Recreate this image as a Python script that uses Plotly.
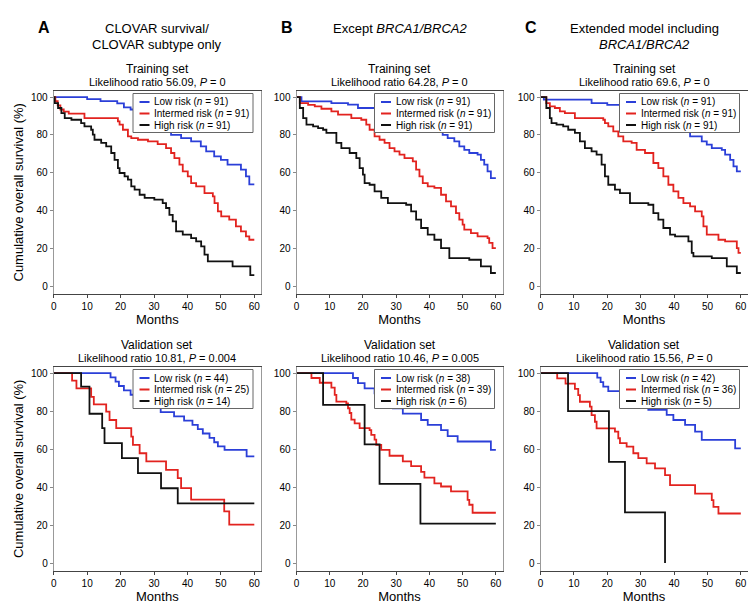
import plotly.graph_objects as go

W, H = 756, 608
FONT = "Liberation Sans, Arial, Helvetica, sans-serif"

# ---------------- data ----------------
month_ticks = [0, 10, 20, 30, 40, 50, 60]
survival_ticks = [0, 20, 40, 60, 80, 100]
risk_groups = ["Low risk", "Intermed risk", "High risk"]
risk_colors = ["#2b3fd8", "#e2231f", "#111111"]

panel_letters = ["A", "B", "C"]
panel_headings = [
    ["CLOVAR survival/", "CLOVAR subtype only"],
    ["Except <i>BRCA1/BRCA2</i>"],
    ["Extended model including", "<i>BRCA1/BRCA2</i>"],
]
set_names = ["Training set", "Validation set"]
lr_values = [["56.09", "64.28", "69.6"], ["10.81", "10.46", "15.56"]]
p_values = [["0", "0", "0"], ["0.004", "0.005", "0"]]
group_n = [[[91, 91, 91], [91, 91, 91], [91, 91, 91]],
           [[44, 25, 14], [38, 39, 6], [42, 36, 5]]]

# Training set, model A
a_train_low_t = [0, 10, 14, 19, 21, 23, 26, 29, 32, 35.1, 38.1, 41.1, 44, 45.6, 48, 50, 52, 56, 57.5, 58.5, 60]
a_train_low_s = [100, 98.9, 97.8, 96.7, 94.5, 93.4, 91.2, 87.9, 84.6, 80, 78.3, 76.5, 73.9, 71.3, 68.6, 66.8, 64.2, 61.6, 58, 53.8, 53.8]
a_train_mid_t = [0, 0.5, 1.2, 2.0, 3.0, 4.5, 9.2, 19.2, 19.7, 20.7, 22.2, 23.2, 25.2, 28.2, 31.1, 33.6, 35.1, 36.1, 37.6, 38.6, 40.1, 41.1, 42.6, 45.1, 47.6, 48.1, 49.1, 50.1, 52.5, 54.5, 56, 57.5, 58.5, 60]
a_train_mid_s = [100, 97.8, 95.6, 93.4, 92.3, 91.2, 88.9, 87.1, 85.4, 82.7, 79.2, 78.3, 77.4, 76.5, 75.1, 73.0, 70.4, 67.7, 64.2, 60.7, 58.0, 54.5, 52.7, 49.2, 47.4, 43.9, 39.5, 36.9, 35.1, 31.6, 28.9, 26.3, 24.5, 24.5]
a_train_high_t = [0, 0.3, 1.3, 2.3, 3.3, 5.3, 8.2, 9.2, 11.2, 11.7, 12.2, 14.2, 15.7, 17.2, 18.2, 19.2, 19.7, 21.2, 22.2, 23.2, 24.2, 25.7, 27.2, 30.1, 32.6, 33.6, 34.6, 35.6, 36.6, 38.6, 41.1, 42.6, 44.1, 45.1, 46.1, 53.5, 58.8, 60]
a_train_high_s = [100, 96.8, 94.2, 91.5, 88.9, 88.0, 86.2, 84.5, 82.7, 80.1, 77.4, 75.7, 73.9, 70.4, 66.8, 62.4, 59.8, 58.0, 56.3, 52.7, 51.0, 48.3, 46.6, 45.7, 43.9, 41.3, 37.7, 34.2, 28.9, 27.2, 25.4, 23.6, 21.0, 16.6, 13.1, 10.4, 5.8, 5.8]

# Training set, model B
b_train_low_t = [0, 1.5, 10.5, 15.5, 18.5, 26, 30, 34, 38, 41, 44, 45.5, 47.5, 49, 50.5, 52, 54.5, 55.5, 56.5, 57.5, 58.5, 60]
b_train_low_s = [100, 97.7, 96.8, 96.0, 94.2, 92.5, 90.5, 88.5, 86.0, 83.5, 80.0, 78.3, 76.5, 73.9, 72.1, 70.4, 69.5, 66.8, 64.2, 60.7, 57.1, 57.1]
b_train_mid_t = [0, 1, 3.5, 5.5, 7.5, 10.5, 12.5, 16.5, 19.5, 21, 22, 23.5, 25, 26.5, 28, 29.5, 31, 32.5, 35, 36, 37, 38, 39.5, 41.5, 43.5, 45, 46.5, 48, 49, 50, 50.5, 52.5, 54.5, 57.5, 58, 59, 60]
b_train_mid_s = [100, 96.8, 95.9, 95.1, 93.8, 92.4, 90.7, 88.9, 88.0, 85.4, 82.7, 79.2, 77.4, 75.7, 73.0, 71.3, 69.5, 67.7, 66.0, 61.6, 58.0, 54.5, 52.7, 51.9, 48.3, 44.8, 42.2, 38.6, 35.1, 32.5, 29.8, 28.0, 26.3, 25.4, 22.8, 20.1, 20.1]
b_train_high_t = [0, 1, 2, 3, 5, 6.5, 8, 9, 12, 13.5, 16, 18, 19, 20, 20.5, 22, 23.5, 25.5, 27.5, 33, 34.5, 36, 37.5, 39.5, 41.5, 43.5, 46, 52, 55.5, 58.5, 60]
b_train_high_s = [100, 94.2, 88.9, 85.4, 84.5, 83.6, 82.7, 81.0, 75.7, 73.0, 70.4, 67.7, 62.4, 58.9, 54.5, 53.6, 50.1, 46.6, 43.9, 43.0, 39.5, 35.1, 30.7, 27.2, 24.5, 20.1, 14.8, 13.9, 10.4, 6.9, 6.9]

# Training set, model C
c_train_low_t = [0, 1, 15.3, 20, 25, 30, 35, 40, 43, 44.8, 48.3, 49.8, 51.3, 54.3, 55.3, 56.8, 57.8, 58.8, 60]
c_train_low_s = [100, 98.6, 96.8, 95.9, 94.5, 92.0, 89.0, 85.0, 82.0, 79.2, 76.5, 74.8, 73.0, 72.1, 69.5, 66.8, 63.3, 60.7, 60.7]
c_train_mid_t = [0, 1.75, 2.8, 4.3, 5.8, 7.3, 10.3, 18.8, 19.3, 20.3, 21.8, 23.3, 24.8, 27.3, 28.8, 31.3, 33.8, 35.3, 36.8, 38.3, 39.8, 41.3, 42.8, 44.8, 46.3, 48.3, 48.8, 49.8, 53.3, 55.3, 58.8, 59.3, 60]
c_train_mid_s = [100, 96.8, 95.1, 94.2, 92.4, 91.5, 88.9, 88.0, 86.2, 84.5, 81.8, 79.2, 76.5, 75.7, 72.1, 70.4, 65.1, 62.4, 58.0, 53.6, 50.1, 46.6, 43.9, 42.2, 39.5, 36.9, 31.6, 27.2, 24.5, 23.6, 20.1, 17.5, 17.5]
c_train_high_t = [0, 1.75, 2.8, 3.3, 4.8, 6.8, 8.3, 10.3, 11.8, 13.3, 15.3, 16.8, 18.3, 19.3, 20.3, 22.3, 23.8, 26.8, 32.3, 33.8, 35.3, 36.8, 38.8, 40.3, 44.3, 45.3, 45.8, 51.3, 55.8, 58.8, 60]
c_train_high_s = [100, 94.2, 88.9, 86.2, 85.4, 84.5, 82.7, 81.0, 76.5, 73.0, 71.3, 69.5, 64.2, 58.0, 53.6, 51.0, 49.2, 43.9, 43.0, 38.6, 35.1, 30.7, 27.2, 26.3, 23.6, 17.5, 15.7, 14.8, 10.4, 6.9, 6.9]

# Validation set, model A
a_val_low_t = [0, 17, 18.5, 19.5, 21, 23, 25, 27, 28.6, 32, 36, 39, 41.5, 43.1, 44.6, 46.6, 48, 49.1, 51.1, 57.7, 60]
a_val_low_s = [100, 97.7, 95.5, 93.2, 90.9, 88.6, 86.4, 84.1, 81.8, 79.5, 77.2, 75.0, 72.7, 70.5, 68.2, 65.9, 63.6, 61.4, 59.6, 56.2, 56.2]
a_val_mid_t = [0, 5.5, 6.8, 11.2, 12.0, 15.7, 16.7, 18.7, 23.2, 23.7, 25.7, 27.7, 33.6, 37.1, 38.1, 41.1, 51.0, 52.5, 60]
a_val_mid_s = [100, 96.0, 92.0, 87.5, 83.5, 79.7, 75.3, 71.0, 66.6, 62.2, 57.8, 53.5, 49.1, 44.7, 39.5, 33.4, 27.2, 20.2, 20.2]
a_val_high_t = [0, 8.2, 10.7, 14.5, 15.2, 20.4, 25.2, 32.1, 37.1, 60]
a_val_high_s = [100, 92.9, 78.6, 71.0, 63.1, 55.2, 47.3, 39.4, 31.4, 31.4]

# Validation set, model B
b_val_low_t = [0, 17, 18.5, 20.5, 23.5, 25, 27, 29, 32, 37.5, 39.5, 43.5, 45.5, 48.5, 58.5, 60]
b_val_low_s = [100, 97.4, 94.7, 92.0, 89.3, 86.6, 84.0, 81.4, 78.7, 75.3, 72.7, 70.0, 66.8, 64.0, 59.6, 59.6]
b_val_mid_t = [0, 4.5, 7, 10.5, 11.5, 12, 15, 15.5, 16, 16.5, 17.5, 19, 22, 22.5, 23.5, 24, 25.5, 28, 32, 34.5, 37.5, 38.5, 41.5, 43.5, 46.5, 51.5, 52, 53, 60]
b_val_mid_s = [100, 97.4, 94.9, 92.3, 88.5, 85.0, 84.0, 81.5, 79.0, 75.5, 73.5, 71.0, 70.0, 67.5, 65.0, 62.2, 59.6, 56.5, 53.5, 51.0, 48.0, 45.0, 42.0, 40.3, 37.7, 33.3, 30.7, 26.5, 26.5]
b_val_high_t = [0, 8, 20.5, 25, 37.3, 60]
b_val_high_s = [100, 83.3, 62.5, 41.7, 20.8, 20.8]

# Validation set, model C
c_val_low_t = [0, 17, 18, 18.8, 20.3, 23.8, 26, 29, 32.3, 37.8, 39.8, 43.3, 46.3, 48.3, 58.3, 60]
c_val_low_s = [100, 97.6, 95.2, 92.9, 90.5, 88.1, 85.7, 83.3, 80.6, 78.0, 75.3, 72.7, 69.2, 64.8, 60.4, 60.4]
c_val_mid_t = [0, 5, 7.5, 10.3, 11.3, 11.8, 14.8, 15.3, 16.3, 16.8, 22.3, 23.3, 23.8, 25.8, 27.8, 29.3, 31.8, 34.3, 37.3, 38.8, 46.3, 51.3, 51.8, 53.3, 60]
c_val_mid_s = [100, 97.2, 94.4, 91.7, 88.4, 84.9, 82.3, 77.9, 74.4, 70.9, 69.2, 65.7, 63.1, 61.3, 57.8, 55.2, 52.5, 49.9, 46.3, 41.0, 36.6, 33.1, 29.6, 26.1, 26.1]
c_val_high_t = [0, 8.25, 20.5, 25.3, 37.3]
c_val_high_s = [100, 80, 53.3, 26.7, 0]

curves = [
    [  # training row
        [(a_train_low_t, a_train_low_s), (a_train_mid_t, a_train_mid_s), (a_train_high_t, a_train_high_s)],
        [(b_train_low_t, b_train_low_s), (b_train_mid_t, b_train_mid_s), (b_train_high_t, b_train_high_s)],
        [(c_train_low_t, c_train_low_s), (c_train_mid_t, c_train_mid_s), (c_train_high_t, c_train_high_s)],
    ],
    [  # validation row
        [(a_val_low_t, a_val_low_s), (a_val_mid_t, a_val_mid_s), (a_val_high_t, a_val_high_s)],
        [(b_val_low_t, b_val_low_s), (b_val_mid_t, b_val_mid_s), (b_val_high_t, b_val_high_s)],
        [(c_val_low_t, c_val_low_s), (c_val_mid_t, c_val_mid_s), (c_val_high_t, c_val_high_s)],
    ],
]

# ---------------- layout geometry (pixels) ----------------
col_px = [(45.7, 253.0), (288.5, 494.5), (532.5, 739.5)]
row_px = [(83.0, 285.6), (359.0, 562.7)]
X_RANGE = [0, 62]
Y_RANGE = [-4, 103.2]


def fx(p):
    return p / W


def fy(p):
    return 1 - p / H


fig = go.Figure()
layout = dict(
    width=W, height=H,
    margin=dict(l=0, r=0, t=0, b=0),
    paper_bgcolor="white", plot_bgcolor="white",
    showlegend=False,
    font=dict(family=FONT, color="black", size=10),
)
annotations = []
shapes = []

for r in range(2):
    top, bottom = row_px[r]
    for c in range(3):
        left, right = col_px[c]
        idx = r * 3 + c + 1
        xa = "x" if idx == 1 else f"x{idx}"
        ya = "y" if idx == 1 else f"y{idx}"
        xkey = "xaxis" if idx == 1 else f"xaxis{idx}"
        ykey = "yaxis" if idx == 1 else f"yaxis{idx}"

        for g in range(3):
            t, s = curves[r][c][g]
            fig.add_trace(go.Scatter(
                x=t, y=s, mode="lines", xaxis=xa, yaxis=ya,
                name=f"{risk_groups[g]} (n = {group_n[r][c][g]})",
                line=dict(shape="hv", color=risk_colors[g], width=1.8),
                hoverinfo="x+y+name",
            ))

        layout[xkey] = dict(
            domain=[fx(left), fx(right)], anchor=ya, range=X_RANGE,
            tickvals=month_ticks, ticks="outside", ticklen=3, tickcolor="#444",
            showline=True, linecolor="#444", linewidth=1, mirror=True,
            showgrid=False, zeroline=False, automargin=False,
            tickfont=dict(size=10, family=FONT),
            title=dict(text="Months", font=dict(size=13, family=FONT), standoff=0),
        )
        ydict = dict(
            domain=[fy(bottom), fy(top)], anchor=xa, range=Y_RANGE,
            tickvals=survival_ticks, ticks="outside", ticklen=3, tickcolor="#888",
            showline=True, linecolor="#999", linewidth=1, mirror=True,
            showgrid=False, zeroline=False, automargin=False,
            tickfont=dict(size=10, family=FONT),
        )
        if c == 0:
            ydict["title"] = dict(text="Cumulative overall survival (%)",
                                  font=dict(size=13, family=FONT), standoff=4)
        layout[ykey] = ydict

        cx = (left + right) / 2
        # set name and likelihood ratio
        annotations.append(dict(
            x=fx(cx), y=fy(top - 22), xref="paper", yref="paper",
            text=set_names[r], showarrow=False, xanchor="center", yanchor="middle",
            font=dict(size=12, family=FONT)))
        annotations.append(dict(
            x=fx(cx), y=fy(top - 9.5), xref="paper", yref="paper",
            text=f"Likelihood ratio {lr_values[r][c]}, <i>P</i> = {p_values[r][c]}",
            showarrow=False, xanchor="center", yanchor="middle",
            font=dict(size=11, family=FONT)))

        # legend box (drawn above curves, like the original)
        lr_ = right - 8
        ll_ = lr_ - 120
        lt_ = top + 2.5
        lb_ = lt_ + 39
        shapes.append(dict(type="rect", xref="paper", yref="paper",
                           x0=fx(ll_), x1=fx(lr_), y0=fy(lb_), y1=fy(lt_),
                           fillcolor="white", line=dict(color="#666", width=1),
                           layer="above"))
        for g in range(3):
            ey = lt_ + 8.5 + g * 11.5
            shapes.append(dict(type="line", xref="paper", yref="paper",
                               x0=fx(ll_ + 6.5), x1=fx(ll_ + 16.5), y0=fy(ey), y1=fy(ey),
                               line=dict(color=risk_colors[g], width=2), layer="above"))
            annotations.append(dict(
                x=fx(ll_ + 19), y=fy(ey), xref="paper", yref="paper",
                text=f"{risk_groups[g]} (<i>n</i> = {group_n[r][c][g]})",
                showarrow=False, xanchor="left", yanchor="middle",
                font=dict(size=10, family=FONT)))

# column headings
for c in range(3):
    left, right = col_px[c]
    cx = (left + right) / 2
    annotations.append(dict(
        x=fx(left - 10), y=fy(19), xref="paper", yref="paper",
        text=f"<b>{panel_letters[c]}</b>", showarrow=False,
        xanchor="center", yanchor="middle", font=dict(size=16, family=FONT)))
    for i, line in enumerate(panel_headings[c]):
        annotations.append(dict(
            x=fx(cx), y=fy(20 + i * 16), xref="paper", yref="paper",
            text=line, showarrow=False, xanchor="center", yanchor="middle",
            font=dict(size=13, family=FONT)))

layout["annotations"] = annotations
layout["shapes"] = shapes
fig.update_layout(**layout)
fig.update_layout(template="none")
fig.update_layout(paper_bgcolor="white", plot_bgcolor="white", showlegend=False,
                  margin=dict(l=0, r=0, t=0, b=0))

fig.write_html("out.html")
